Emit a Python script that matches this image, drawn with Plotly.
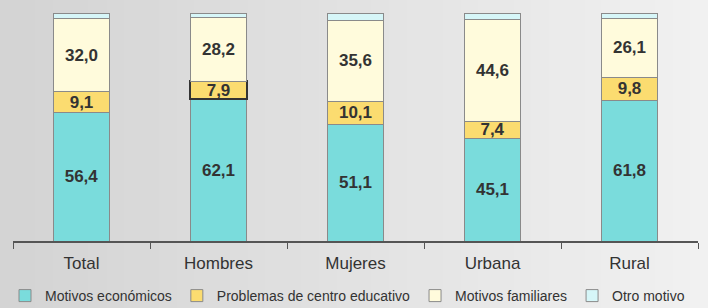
import plotly.graph_objects as go

categories = ["Total", "Hombres", "Mujeres", "Urbana", "Rural"]
economicos = [56.4, 62.1, 51.1, 45.1, 61.8]
problemas = [9.1, 7.9, 10.1, 7.4, 9.8]
familiares = [32.0, 28.2, 35.6, 44.6, 26.1]
otro = [2.5, 1.8, 3.2, 2.9, 2.3]

def fmt(v):
    return f"{v:.1f}".replace(".", ",")

series = [
    ("Motivos económicos", economicos, "#7adcdc", True),
    ("Problemas de centro educativo", problemas, "#fbdc70", True),
    ("Motivos familiares", familiares, "#fffbdc", True),
    ("Otro motivo", otro, "#d6f6f8", False),
]

fig = go.Figure()
for name, vals, color, show in series:
    lw = [1] * len(vals)
    lc = ["#8a8a8a"] * len(vals)
    if name == "Problemas de centro educativo":
        lw[1] = 2
        lc[1] = "#333333"
    fig.add_trace(go.Bar(
        x=categories, y=vals, name=name,
        marker=dict(color=color, line=dict(width=lw, color=lc)),
        text=[fmt(v) for v in vals] if show else None,
        textposition="inside" if show else "none",
        insidetextanchor="middle",
        textfont=dict(family="Liberation Sans, Arial", size=17, color="#333333", weight="bold"),
        hoverinfo="skip",
    ))

# background gradient (left darker, right lighter)
shapes = []
n = 40
W, H = 708, 308
l, r, t, b = 13, 10, 13, 67
pw, ph = W - l - r, H - t - b
for i in range(n):
    x0 = -l / pw + i * (W / pw) / n
    x1 = -l / pw + (i + 1) * (W / pw) / n + 0.002
    f = i / (n - 1)
    c = int(212 + (241 - 212) * f)
    shapes.append(dict(type="rect", xref="paper", yref="paper",
                       x0=x0, x1=x1, y0=-b / ph, y1=1 + t / ph,
                       fillcolor=f"rgb({c},{c},{c})", line=dict(width=0), layer="below"))

fig.update_layout(
    width=W, height=H,
    margin=dict(l=l, r=r, t=t, b=b, autoexpand=False),
    barmode="stack",
    bargap=0.59,
    paper_bgcolor="#e0e0e0",
    plot_bgcolor="rgba(0,0,0,0)",
    shapes=shapes,
    showlegend=True,
    legend=dict(orientation="h", x=-8 / pw, xanchor="left", y=-39 / ph, yanchor="top",
                traceorder="normal",
                font=dict(family="Liberation Sans, Arial", size=14, color="#333333"),
                itemwidth=30, bgcolor="rgba(0,0,0,0)"),
    uniformtext=dict(minsize=17, mode="show"),
    xaxis=dict(showline=True, linecolor="#555555", linewidth=1.5,
               ticks="outside", tickson="boundaries", ticklen=6, tickcolor="#555555",
               ticklabelstandoff=6,
               tickfont=dict(family="Liberation Sans, Arial", size=17, color="#333333"),
               showgrid=False),
    yaxis=dict(visible=False, range=[0, 100], showgrid=False),
)

fig.write_html("out.html", config={"displayModeBar": False},
               post_script="document.body.style.margin='0';document.body.style.overflow='hidden';")
